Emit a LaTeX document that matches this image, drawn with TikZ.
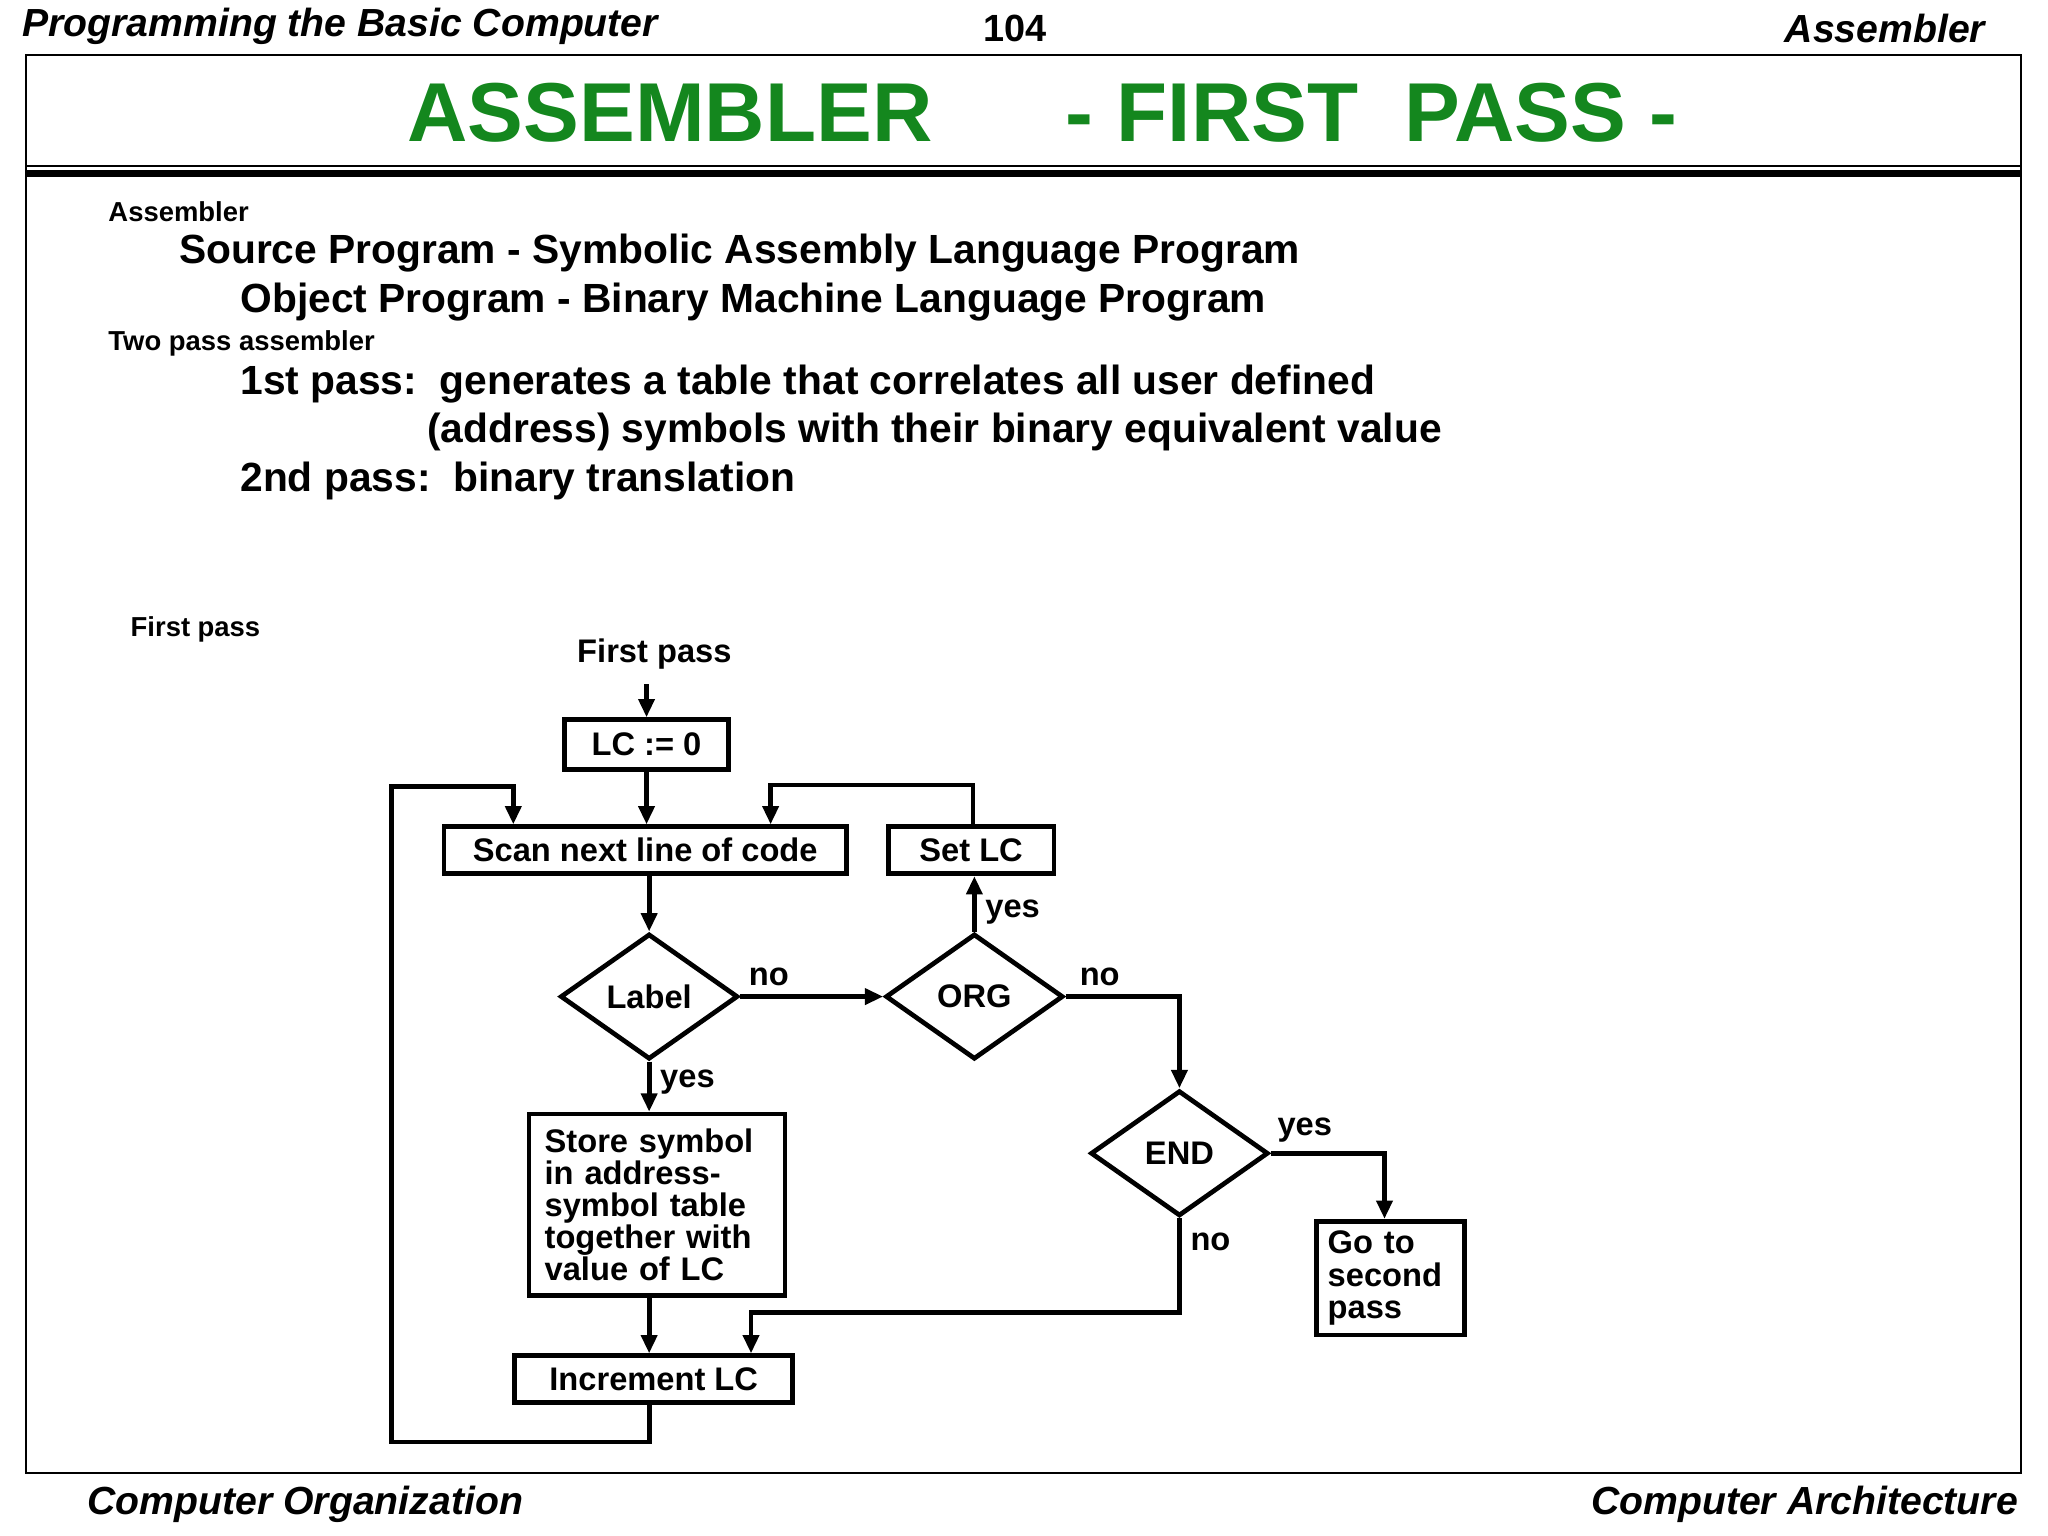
\documentclass[tikz,border=0pt]{standalone}
\usepackage{fontspec}
\setmainfont{Liberation Sans}
\usetikzlibrary{shapes.geometric,arrows.meta}
\definecolor{tgreen}{RGB}{20,135,30}
\begin{document}
\begin{tikzpicture}[x=0.5pt,y=-0.5pt,
  ln/.style={line width=1.8pt},
  arr/.style={ln,-{Triangle[length=7pt,width=6pt]}},
  ff/.style={font=\fontsize{12.5}{12.5}\selectfont\bfseries},
  box/.style={draw,ln,inner sep=0pt,ff},
  dia/.style={draw,ln,diamond,inner sep=0pt,minimum width=68pt,minimum height=48pt,ff},
  lab/.style={ff},
  body/.style={anchor=west,font=\fontsize{15.6}{15.6}\selectfont\bfseries},
  sm/.style={anchor=west,font=\fontsize{10.5}{10.5}\selectfont\bfseries},
  hd/.style={font=\fontsize{15}{15}\selectfont\bfseries\itshape}]
\useasboundingbox (0,0) rectangle (1568,1176);
% header
\node[hd,anchor=west] (h1) at (10,20) {Programming the Basic Computer};
\node[font=\fontsize{14.5}{14.5}\selectfont\bfseries] (h2) at (777,22) {104};
\node[hd,anchor=east] (h3) at (1527,22) {Assembler};
\node[hd,anchor=west] (f1) at (60,1152) {Computer Organization};
\node[hd,anchor=east] (f2) at (1552,1152) {Computer Architecture};
\draw[line width=0.8pt] (20,42) rectangle (1547,1128);
\draw[line width=1pt] (20,127) -- (1547,127);
\draw[line width=2.5pt] (20,133) -- (1547,133);
\node[text=tgreen,font=\fontsize{32}{32}\selectfont\bfseries] (t1) at (513,86) {ASSEMBLER};
\node[text=tgreen,font=\fontsize{32}{32}\selectfont\bfseries] (t2) at (1050,86) {- FIRST\ \ PASS -};
% text
\node[sm] (a1) at (76,162) {Assembler};
\node[body] (a2) at (130,194) {Source Program - Symbolic Assembly Language Program};
\node[body] (a3) at (177,231) {Object Program - Binary Machine Language Program};
\node[sm] (a4) at (76,263) {Two pass assembler};
\node[body] (a5) at (177,294) {1st pass:\ \ generates a table that correlates all user defined};
\node[body] (a6) at (320,331) {(address) symbols with their binary equivalent value};
\node[body] (a7) at (177,368) {2nd pass:\ \ binary translation};
\node[sm] (a8) at (93,482) {First pass};
% flowchart
\node[lab] (fp) at (501,501) {First pass};
\node[box,minimum width=63pt,minimum height=19pt] (lc) at (495,570) {LC := 0};
\node[box,minimum width=154pt,minimum height=18pt] (scan) at (494,651) {Scan next line of code};
\node[box,minimum width=63.5pt,minimum height=18pt] (setlc) at (743.5,651) {Set LC};
\node[dia] (label) at (497,763) {Label};
\node[dia] (org) at (746,763) {ORG};
\node[dia] (end) at (903,883) {END};
\node[box,minimum width=98pt,minimum height=69.5pt,text width=86pt,align=left,inner xsep=6pt,font=\fontsize{12.5}{12.3}\selectfont\bfseries] (store) at (503,922.5) {Store symbol\\in address-\\symbol table\\together with\\value of LC};
\node[box,minimum width=106.5pt,minimum height=18pt] (inc) at (500.5,1056) {Increment LC};
\node[box,minimum width=56.5pt,minimum height=43.5pt,text width=48pt,align=left,inner xsep=4pt,font=\fontsize{12.5}{12.3}\selectfont\bfseries] (go) at (1064.5,978.5) {Go to\\second\\pass};
\coordinate (c1) at (497,1104);
\coordinate (c2) at (300,1104);
\coordinate (c3) at (300,602);
\coordinate (c4) at (393,602);
\coordinate (c5) at (745,601);
\coordinate (c6) at (590,601);
\coordinate (c7) at (903,763);
\coordinate (c8) at (1060,883);
\coordinate (c9) at (903,1005);
\coordinate (c10) at (575,1005);
\draw[arr] (fp.south -| lc.north) ++(0,4) -- (lc.north);
\draw[arr] (lc.south) -- (lc.south |- scan.north);
\draw[arr] (scan.south -| label.north) -- (label.north);
\draw[arr] (label.east) -- node[lab,above,pos=0.2] {no} (org.west);
\draw[arr] (org.north) -- node[lab,right,pos=0.35] {yes} (org.north |- setlc.south);
\draw[arr] (setlc.north -| c5) -- (c5) -- (c6) -- (c6 |- scan.north);
\draw[arr] (org.east) -- node[lab,above,pos=0.3] {no} (c7) -- (end.north);
\draw[arr] (end.east) -- node[lab,above,pos=0.3] {yes} (c8) -- (c8 |- go.north);
\draw[arr] (end.south) -- node[lab,right,pos=0.25] {no} (c9) -- (c10) -- (c10 |- inc.north);
\draw[arr] (label.south) -- node[lab,right,pos=0.4] {yes} (label.south |- store.north);
\draw[arr] (store.south -| label.south) -- (label.south |- inc.north);
\draw[arr] (inc.south -| c1) -- (c1) -- (c2) -- (c3) -- (c4) -- (c4 |- scan.north);
\end{tikzpicture}
\end{document}
